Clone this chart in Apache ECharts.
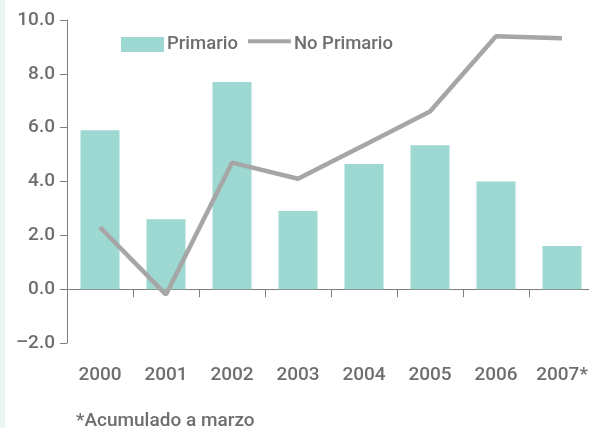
<!DOCTYPE html>
<html><head><meta charset="utf-8">
<script src="https://cdn.jsdelivr.net/npm/echarts@6/dist/echarts.min.js"></script>
<style>html,body{margin:0;padding:0;background:#fff}#c{width:589px;height:428px}</style>
</head><body><div id="c"></div>
<script>
const categories = ['2000','2001','2002','2003','2004','2005','2006','2007*'];
const primario = [5.9, 2.6, 7.7, 2.9, 4.65, 5.35, 4.0, 1.6];
const noPrimario = [2.3, -0.2, 4.7, 4.1, 5.35, 6.6, 9.4, 9.32];
const yTicks = {min: -2, max: 10, interval: 2};

const txt = '#6d6e70';
const font = 'Roboto';
const chart = echarts.init(document.getElementById('c'), null, {renderer: 'canvas'});
chart.setOption({
  animation: false,
  backgroundColor: '#ffffff',
  graphic: [
    {type: 'rect', left: 0, top: 0, shape: {width: 5, height: 428}, style: {fill: '#eaf5f4'}, z: -1},
    {type: 'text', left: 76, top: 412, style: {text: '*Acumulado a marzo', fill: txt, font: '500 19px Roboto'}}
  ],
  legend: {
    left: 121, top: 35, padding: 0,
    itemWidth: 43, itemHeight: 15, itemGap: 10,
    textStyle: {color: txt, fontSize: 18.5, fontFamily: font, fontWeight: 500, padding: [0,0,0,-2]},
    data: [
      {name: 'Primario', icon: 'rect'},
      {name: 'No Primario', icon: 'path://M0,2.2L44,2.2L44,6.2L0,6.2Z M0,0L0.01,0L0,0.01Z M44,15L43.99,15L44,14.99Z',
        itemStyle: {color: '#a6a6a6'}}
    ]
  },
  grid: {left: 67, right: -6, top: 20, bottom: 85, containLabel: false, outerBoundsMode: 'none'},
  xAxis: {
    type: 'category', data: categories,
    axisLine: {onZero: true, lineStyle: {color: '#7f7f7f', width: 1}},
    axisTick: {show: true, length: 8, lineStyle: {color: '#7f7f7f'}},
    axisLabel: {color: txt, fontSize: 19, fontFamily: font, fontWeight: 500, margin: 23, interval: 0}
  },
  yAxis: {
    type: 'value', min: yTicks.min, max: yTicks.max, interval: yTicks.interval,
    axisLine: {show: true, lineStyle: {color: '#7f7f7f', width: 1}},
    axisTick: {show: true, length: 7, lineStyle: {color: '#7f7f7f'}},
    splitLine: {show: false},
    axisLabel: {color: txt, fontSize: 19, fontFamily: font, fontWeight: 500, margin: 12,
      formatter: v => v.toFixed(1).replace('-', '–')}
  },
  series: [
    {name: 'Primario', type: 'bar', data: primario, barWidth: 39,
      itemStyle: {color: '#9ed8d2'}},
    {name: 'No Primario', type: 'line', data: noPrimario, symbol: 'none',
      lineStyle: {color: '#a6a6a6', width: 4.5}, itemStyle: {color: '#a6a6a6'}}
  ]
});
</script></body></html>
